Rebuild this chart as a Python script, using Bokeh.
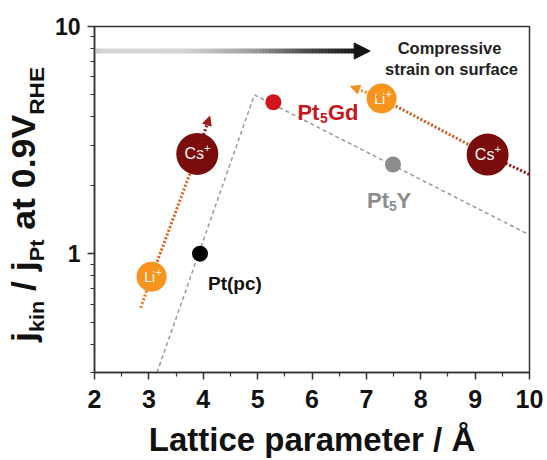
import numpy as np
from bokeh.plotting import figure
from bokeh.layouts import row
from bokeh.models import Range1d, FixedTicker, PrintfTickFormatter, Label, Arrow, NormalHead, Div
from bokeh.core.properties import value
from bokeh.embed import file_html
from bokeh.resources import INLINE

FONT = "Liberation Sans"

# ---------------- data ----------------
x_ticks = [2, 3, 4, 5, 6, 7, 8, 9, 10]
x_minor = [2.5, 3.5, 4.5, 5.5, 6.5, 7.5, 8.5, 9.5]
y_ticks = [1, 10]
y_minor = [0.3, 0.4, 0.5, 0.6, 0.7, 0.8, 0.9, 2, 3, 4, 5, 6, 7, 8, 9]

# volcano-type trend (grey dashed)
trend_x = [3.15, 4.94, 10.0]
trend_y = [0.30, 5.0, 1.21]

# catalysts
cat_x = [3.94, 5.29, 7.49]
cat_y = [1.0, 4.64, 2.47]
cat_colors = ["#000000", "#d0161c", "#8c8c8c"]

# cation trends: [start, Li+, Cs+, end]
left_x = [2.85, 3.05, 3.89, 4.12]
left_y = [0.578, 0.792, 2.75, 4.03]
right_x = [6.71, 7.28, 9.23, 10.0]
right_y = [5.45, 4.82, 2.73, 2.23]

# strain arrow
strain_y = 7.8
strain_x0, strain_x1 = 2.0, 7.07

# ---------------- main figure ----------------
p = figure(width=497, height=460, x_range=Range1d(2, 10), y_range=Range1d(0.3, 10),
           y_axis_type="log", output_backend="svg", toolbar_location=None,
           min_border_left=44, min_border_right=18, min_border_top=26, min_border_bottom=83)
p.xgrid.visible = False
p.ygrid.visible = False
p.outline_line_color = "#333333"
p.outline_line_width = 1.5
p.background_fill_color = "white"
p.border_fill_color = "white"

p.xaxis.ticker = FixedTicker(ticks=x_ticks, minor_ticks=x_minor)
p.yaxis.ticker = FixedTicker(ticks=y_ticks, minor_ticks=y_minor)
p.yaxis.formatter = PrintfTickFormatter(format="%d")
for ax in (p.xaxis, p.yaxis):
    ax.axis_line_color = "#333333"
    ax.axis_line_width = 1.5
    ax.major_tick_line_color = "#333333"
    ax.major_tick_line_width = 1.5
    ax.minor_tick_line_color = "#333333"
    ax.minor_tick_line_width = 1.2
    ax.major_tick_out = 7
    ax.major_tick_in = 0
    ax.minor_tick_out = 4
    ax.minor_tick_in = 0
    ax.major_label_text_font = FONT
    ax.major_label_text_font_style = "bold"
    ax.major_label_text_color = "#111111"
p.xaxis.major_label_text_font_size = "25px"
p.yaxis.major_label_text_font_size = "23px"
p.xaxis.major_label_standoff = 10
p.yaxis.major_label_standoff = 7
p.xaxis.axis_label = "Lattice parameter / Å"
p.xaxis.axis_label_text_font = FONT
p.xaxis.axis_label_text_font_style = "bold"
p.xaxis.axis_label_text_font_size = "33px"
p.xaxis.axis_label_text_color = "#111111"
p.xaxis.axis_label_standoff = 10

# grey dashed trend
p.line(trend_x, trend_y, line_color="#9a9a9a", line_dash="4 3", line_width=1.5)

# gradient strain arrow
stops_f = [0.0, 0.04, 0.35, 0.6, 0.8, 1.0]
stops_g = [200, 216, 212, 160, 80, 25]
n = 80
xs = np.linspace(strain_x0, strain_x1 - 0.25, n + 1)
fr = (xs[:-1] - strain_x0) / (xs[-1] - strain_x0)
grays = np.interp(fr, stops_f, stops_g).astype(int)
cols = ["#%02x%02x%02x" % (g, g, g) for g in grays]
p.segment(x0=xs[:-1], y0=[strain_y] * n, x1=xs[1:], y1=[strain_y] * n,
          line_color=cols, line_width=4.5, line_cap="square")
p.add_layout(Arrow(end=NormalHead(size=16, fill_color="#151515", line_color="#151515"),
                   x_start=strain_x1 - 0.3, y_start=strain_y, x_end=strain_x1, y_end=strain_y,
                   line_width=4.5, line_color="#151515"))

# cation dotted trends
dot = dict(line_dash="2 2", line_width=3)
p.line(left_x[0:2], left_y[0:2], line_color="#f07a1e", **dot)
p.line(left_x[1:3], left_y[1:3], line_color="#e2601c", **dot)
p.add_layout(Arrow(end=NormalHead(size=9, fill_color="#9e1e1e", line_color="#9e1e1e"),
                   x_start=left_x[2], y_start=left_y[2], x_end=left_x[3], y_end=left_y[3],
                   line_color="#8e1414", **dot))
p.add_layout(Arrow(end=NormalHead(size=9, fill_color="#f39020", line_color="#f39020"),
                   x_start=right_x[1], y_start=right_y[1], x_end=right_x[0], y_end=right_y[0],
                   line_color="#f08a20", **dot))
p.line(right_x[1:3], right_y[1:3], line_color="#d0561c", **dot)
p.line(right_x[2:4], right_y[2:4], line_color="#8e1414", **dot)

# catalyst points
p.scatter(cat_x, cat_y, size=16, fill_color=cat_colors, line_color=None)

# cation circles
li_x = [left_x[1], right_x[1]]
li_y = [left_y[1], right_y[1]]
cs_x = [left_x[2], right_x[2]]
cs_y = [left_y[2], right_y[2]]
p.scatter(li_x, li_y, size=30, fill_color="#f7941d", line_color=None)
p.scatter(cs_x, cs_y, size=42, fill_color="#7a0c0c", line_color=None)
txt = dict(text_font=value(FONT), text_color="white", text_align="center", text_baseline="middle")
p.text(li_x, li_y, text=["Li", "Li"], text_font_size="14px", x_offset=-2, **txt)
p.text(li_x, li_y, text=["+", "+"], text_font_size="10px", x_offset=7, y_offset=-5, **txt)
p.text(cs_x, cs_y, text=["Cs", "Cs"], text_font_size="16px", x_offset=-3, **txt)
p.text(cs_x, cs_y, text=["+", "+"], text_font_size="11px", x_offset=10, y_offset=-6, **txt)

# catalyst labels
lab = dict(text_font=value(FONT), text_font_style="bold", text_baseline="alphabetic", text_align="left")
p.text([cat_x[0]], [cat_y[0]], text=["Pt(pc)"], text_font_size="19px", text_color="#111111",
       x_offset=8, y_offset=30, **lab)
p.text([cat_x[1]], [cat_y[1]], text=["Pt"], text_font_size="22px", text_color="#c8161e",
       x_offset=24, y_offset=10, **lab)
p.text([cat_x[1]], [cat_y[1]], text=["5"], text_font_size="14px", text_color="#c8161e",
       x_offset=46.5, y_offset=16, **lab)
p.text([cat_x[1]], [cat_y[1]], text=["Gd"], text_font_size="22px", text_color="#c8161e",
       x_offset=54.5, y_offset=10, **lab)
p.text([cat_x[2]], [cat_y[2]], text=["Pt"], text_font_size="22px", text_color="#8c8c8c",
       x_offset=-26, y_offset=36, **lab)
p.text([cat_x[2]], [cat_y[2]], text=["5"], text_font_size="14px", text_color="#8c8c8c",
       x_offset=-4, y_offset=42, **lab)
p.text([cat_x[2]], [cat_y[2]], text=["Y"], text_font_size="22px", text_color="#8c8c8c",
       x_offset=3.5, y_offset=36, **lab)

# strain annotation text (inside the frame)
for sx, sy, t in [(355, 325, "Compressive"), (357, 304, "strain on surface")]:
    p.add_layout(Label(x=sx, y=sy, x_units="screen", y_units="screen", text=t,
                       text_font=FONT, text_font_style="bold", text_font_size="16.5px",
                       text_color="#222222", text_align="center", text_baseline="alphabetic"))

# ---------------- y-axis title (rotated HTML text with subscripts) ----------------
sub = "font-size:20px;vertical-align:-9px;"
ylabel_html = (
    '<div style="width:0;height:0;">'
    '<span style="display:inline-block;white-space:pre;transform-origin:0 0;'
    'transform:translate(5px,342px) rotate(-90deg) scaleX(1.08);'
    "font-family:'Liberation Sans';font-weight:bold;font-size:33px;line-height:normal;color:#111111;\">"
    f'j<span style="{sub}">kin</span> / j<span style="{sub}">Pt</span> at 0.9V'
    f'<span style="{sub}font-size:21px;">RHE</span></span></div>'
)
ydiv = Div(text=ylabel_html, width=50, height=460, margin=(0, 0, 0, 0))

layout = row(ydiv, p)
open("out.html", "w").write(file_html(layout, INLINE))
